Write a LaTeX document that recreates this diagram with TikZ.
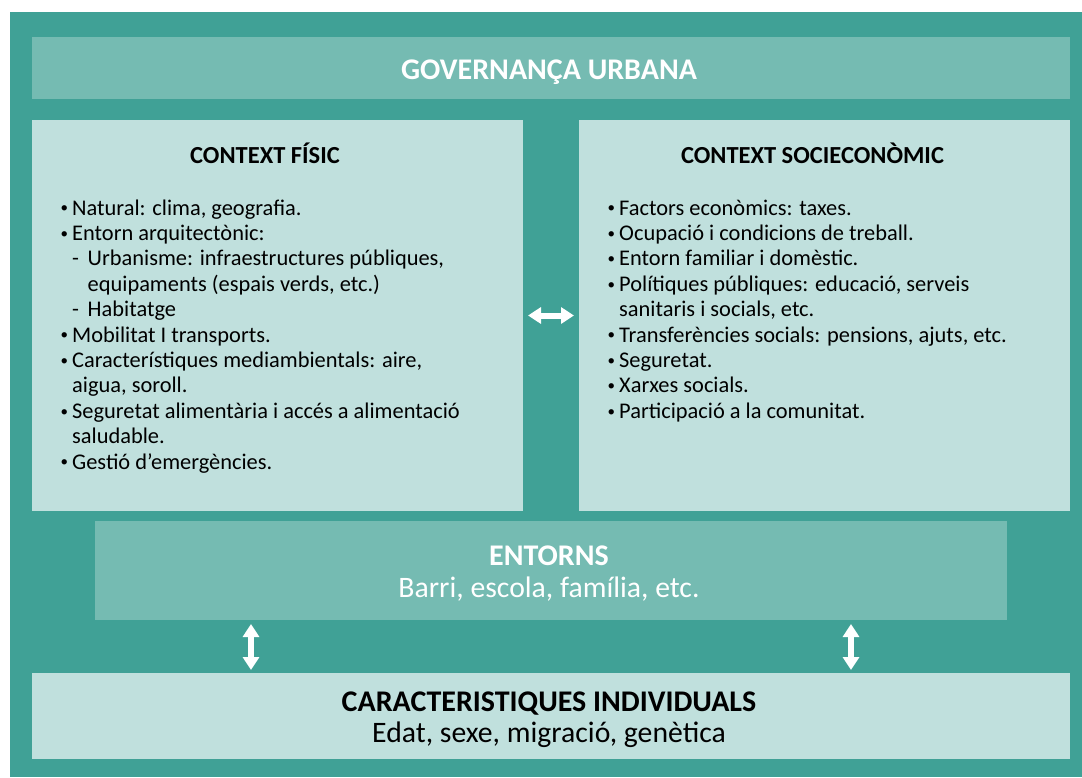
\documentclass[tikz,border=0pt]{standalone}
\usepackage{fontspec}
\setmainfont{Carlito}
\usetikzlibrary{arrows.meta}
\definecolor{tealdark}{HTML}{40A196}
\definecolor{tealmid}{HTML}{75BBB2}
\definecolor{teallight}{HTML}{C0E0DD}
\newcommand\bodyfont{\fontsize{22.4}{25.4}\selectfont}
\newcommand\smallbul{\hspace{-1pt}\raisebox{2.2pt}{\fontsize{15}{15}\selectfont\textbullet}}
\newcommand\bitem[1]{\hbox{\makebox[10.5pt][l]{\smallbul}#1}}
\newcommand\citem[1]{\hbox{\hspace{10.5pt}#1}}
\newcommand\ditem[1]{\hbox{\hspace{10.5pt}\makebox[15.5pt][l]{-}#1}}
\newcommand\dcitem[1]{\hbox{\hspace{26pt}#1}}
\begin{document}
\begin{tikzpicture}[x=1pt,y=-1pt,
  panel/.style={inner sep=0pt, outer sep=0pt, anchor=north west, draw=none},
  head/.style={anchor=base, inner sep=0pt, font=\bfseries\fontsize{24.5}{28}\selectfont},
  big/.style={anchor=base, inner sep=0pt, font=\bfseries\fontsize{30}{34}\selectfont},
  bigreg/.style={anchor=base, inner sep=0pt, font=\fontsize{29.7}{34}\selectfont},
  list/.style={anchor=base west, inner sep=0pt, font=\bodyfont},
  arr/.style={white, line width=6pt, {Triangle[length=13pt,width=16pt]}-{Triangle[length=13pt,width=16pt]}}]
\useasboundingbox (0,0) rectangle (1082,777);
\fill[white] (0,0) rectangle (1082,777);
\fill[tealdark] (10,12) rectangle (1082,777);

\node[panel, fill=tealmid, minimum width=1038pt, minimum height=62pt] (gov) at (32,37) {};
\node[panel, fill=teallight, minimum width=491pt, minimum height=391pt] (fisic) at (32,120) {};
\node[panel, fill=teallight, minimum width=491pt, minimum height=391pt] (socio) at (579,120) {};
\node[panel, fill=tealmid, minimum width=912pt, minimum height=99pt] (entorns) at (95,521) {};
\node[panel, fill=teallight, minimum width=1038pt, minimum height=86pt] (caract) at (32,673) {};

\node[big, white] (govt) at (549,79) {GOVERNANÇA URBANA};
\node[head] (fisich) at (265,163.5) {CONTEXT FÍSIC};
\node[head] (socioh) at (812.5,163.5) {CONTEXT SOCIECONÒMIC};

\node[list] (fisicl) at (61.5,215) {\vtop{\bodyfont
  \bitem{Natural: clima, geografia.}
  \bitem{Entorn arquitectònic:}
  \ditem{Urbanisme: infraestructures públiques,}
  \dcitem{equipaments (espais verds, etc.)}
  \ditem{Habitatge}
  \bitem{Mobilitat I transports.}
  \bitem{Característiques mediambientals: aire,}
  \citem{aigua, soroll.}
  \bitem{Seguretat alimentària i accés a alimentació}
  \citem{saludable.}
  \bitem{Gestió d’emergències.}}};

\node[list] (sociol) at (608.5,215) {\vtop{\bodyfont
  \bitem{Factors econòmics: taxes.}
  \bitem{Ocupació i condicions de treball.}
  \bitem{Entorn familiar i domèstic.}
  \bitem{Polítiques públiques: educació, serveis}
  \citem{sanitaris i socials, etc.}
  \bitem{Transferències socials: pensions, ajuts, etc.}
  \bitem{Seguretat.}
  \bitem{Xarxes socials.}
  \bitem{Participació a la comunitat.}}};

\node[big, white] (entt) at (549,565) {ENTORNS};
\node[bigreg, white] (entd) at (549,597) {Barri, escola, família, etc.};
\node[big] (cart) at (549,711) {CARACTERISTIQUES INDIVIDUALS};
\node[bigreg] (card) at (549,742) {Edat, sexe, migració, genètica};

\coordinate (v1) at (251,640);
\coordinate (v2) at (851,640);
\draw[arr, shorten <=5pt, shorten >=5pt] (fisic.east) -- (socio.west);
\draw[arr, shorten <=4pt, shorten >=3pt] (entorns.south -| v1) -- (caract.north -| v1);
\draw[arr, shorten <=4pt, shorten >=3pt] (entorns.south -| v2) -- (caract.north -| v2);
\end{tikzpicture}
\end{document}
